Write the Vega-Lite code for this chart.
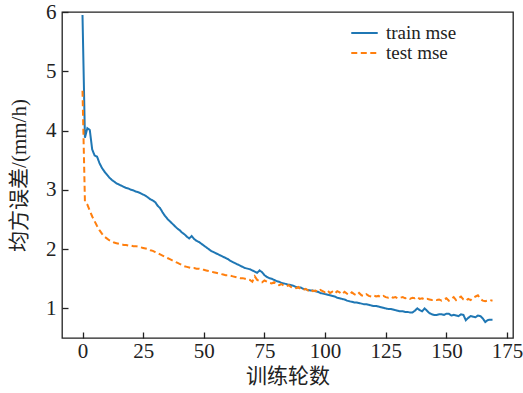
{
  "$schema": "https://vega.github.io/schema/vega-lite/v6.json",
  "width": 451,
  "height": 326,
  "autosize": {"type": "none"},
  "padding": {"left": 62, "top": 12, "right": 10, "bottom": 55},
  "background": "white",
  "config": {
    "view": {"stroke": "#222", "strokeWidth": 1.3},
    "font": "Liberation Serif, Times New Roman, serif",
    "axis": {
      "domain": false,
      "grid": false,
      "tickColor": "#222",
      "tickWidth": 1.3,
      "tickSize": -6,
      "labelColor": "#222",
      "titleColor": "#222",
      "labelFont": "Liberation Serif",
      "labelFontSize": 21,
      "titleFont": "Liberation Serif, Noto Sans CJK SC, serif",
      "titleFontSize": 21,
      "titleFontWeight": "normal"
    },
    "legend": {
      "labelFont": "Liberation Serif, Times New Roman, serif",
      "labelFontSize": 19,
      "labelColor": "#222"
    }
  },
  "datasets": {
    "mse": [
      {"e":0,"train mse":5.95,"test mse":4.67},{"e":1,"train mse":3.88,"test mse":2.80},{"e":2,"train mse":4.04,"test mse":2.75},{"e":3,"train mse":4.01,"test mse":2.65},{"e":4,"train mse":3.68,"test mse":2.55},
      {"e":5,"train mse":3.58,"test mse":2.47},{"e":6,"train mse":3.56,"test mse":2.39},{"e":7,"train mse":3.45,"test mse":2.32},{"e":8,"train mse":3.37,"test mse":2.26},{"e":9,"train mse":3.31,"test mse":2.21},
      {"e":10,"train mse":3.26,"test mse":2.18},{"e":11,"train mse":3.21,"test mse":2.15},{"e":12,"train mse":3.17,"test mse":2.13},{"e":13,"train mse":3.14,"test mse":2.11},{"e":14,"train mse":3.11,"test mse":2.10},
      {"e":15,"train mse":3.09,"test mse":2.09},{"e":16,"train mse":3.07,"test mse":2.08},{"e":17,"train mse":3.05,"test mse":2.07},{"e":18,"train mse":3.03,"test mse":2.07},{"e":19,"train mse":3.02,"test mse":2.06},
      {"e":20,"train mse":3.00,"test mse":2.06},{"e":21,"train mse":2.99,"test mse":2.05},{"e":22,"train mse":2.97,"test mse":2.05},{"e":23,"train mse":2.96,"test mse":2.04},{"e":24,"train mse":2.94,"test mse":2.03},
      {"e":25,"train mse":2.92,"test mse":2.02},{"e":26,"train mse":2.90,"test mse":2.01},{"e":27,"train mse":2.87,"test mse":2.00},{"e":28,"train mse":2.84,"test mse":1.98},{"e":29,"train mse":2.82,"test mse":1.97},
      {"e":30,"train mse":2.79,"test mse":1.95},{"e":31,"train mse":2.73,"test mse":1.93},{"e":32,"train mse":2.69,"test mse":1.91},{"e":33,"train mse":2.62,"test mse":1.89},{"e":34,"train mse":2.56,"test mse":1.87},
      {"e":35,"train mse":2.51,"test mse":1.85},{"e":36,"train mse":2.47,"test mse":1.83},{"e":37,"train mse":2.43,"test mse":1.81},{"e":38,"train mse":2.39,"test mse":1.79},{"e":39,"train mse":2.35,"test mse":1.77},
      {"e":40,"train mse":2.32,"test mse":1.75},{"e":41,"train mse":2.28,"test mse":1.73},{"e":42,"train mse":2.25,"test mse":1.71},{"e":43,"train mse":2.21,"test mse":1.70},{"e":44,"train mse":2.18,"test mse":1.69},
      {"e":45,"train mse":2.22,"test mse":1.68},{"e":46,"train mse":2.17,"test mse":1.68},{"e":47,"train mse":2.14,"test mse":1.67},{"e":48,"train mse":2.12,"test mse":1.67},{"e":49,"train mse":2.09,"test mse":1.66},
      {"e":50,"train mse":2.06,"test mse":1.65},{"e":51,"train mse":2.03,"test mse":1.64},{"e":52,"train mse":2.00,"test mse":1.63},{"e":53,"train mse":1.97,"test mse":1.62},{"e":54,"train mse":1.95,"test mse":1.61},
      {"e":55,"train mse":1.93,"test mse":1.60},{"e":56,"train mse":1.91,"test mse":1.59},{"e":57,"train mse":1.89,"test mse":1.58},{"e":58,"train mse":1.87,"test mse":1.57},{"e":59,"train mse":1.85,"test mse":1.56},
      {"e":60,"train mse":1.83,"test mse":1.56},{"e":61,"train mse":1.80,"test mse":1.55},{"e":62,"train mse":1.78,"test mse":1.54},{"e":63,"train mse":1.76,"test mse":1.53},{"e":64,"train mse":1.74,"test mse":1.52},
      {"e":65,"train mse":1.72,"test mse":1.51},{"e":66,"train mse":1.70,"test mse":1.51},{"e":67,"train mse":1.68,"test mse":1.50},{"e":68,"train mse":1.67,"test mse":1.49},{"e":69,"train mse":1.66,"test mse":1.48},
      {"e":70,"train mse":1.64,"test mse":1.45},{"e":71,"train mse":1.62,"test mse":1.54},{"e":72,"train mse":1.60,"test mse":1.48},{"e":73,"train mse":1.64,"test mse":1.46},{"e":74,"train mse":1.61,"test mse":1.44},
      {"e":75,"train mse":1.56,"test mse":1.47},{"e":76,"train mse":1.53,"test mse":1.45},{"e":77,"train mse":1.51,"test mse":1.43},{"e":78,"train mse":1.50,"test mse":1.42},{"e":79,"train mse":1.48,"test mse":1.44},
      {"e":80,"train mse":1.46,"test mse":1.40},{"e":81,"train mse":1.45,"test mse":1.39},{"e":82,"train mse":1.43,"test mse":1.41},{"e":83,"train mse":1.42,"test mse":1.38},{"e":84,"train mse":1.41,"test mse":1.37},
      {"e":85,"train mse":1.40,"test mse":1.39},{"e":86,"train mse":1.39,"test mse":1.36},{"e":87,"train mse":1.38,"test mse":1.35},{"e":88,"train mse":1.36,"test mse":1.34},{"e":89,"train mse":1.35,"test mse":1.36},
      {"e":90,"train mse":1.35,"test mse":1.32},{"e":91,"train mse":1.33,"test mse":1.31},{"e":92,"train mse":1.32,"test mse":1.33},{"e":93,"train mse":1.31,"test mse":1.30},{"e":94,"train mse":1.30,"test mse":1.32},
      {"e":95,"train mse":1.30,"test mse":1.29},{"e":96,"train mse":1.29,"test mse":1.30},{"e":97,"train mse":1.28,"test mse":1.28},{"e":98,"train mse":1.26,"test mse":1.31},{"e":99,"train mse":1.25,"test mse":1.29},
      {"e":100,"train mse":1.24,"test mse":1.27},{"e":101,"train mse":1.23,"test mse":1.30},{"e":102,"train mse":1.22,"test mse":1.26},{"e":103,"train mse":1.21,"test mse":1.28},{"e":104,"train mse":1.20,"test mse":1.25},
      {"e":105,"train mse":1.18,"test mse":1.29},{"e":106,"train mse":1.17,"test mse":1.27},{"e":107,"train mse":1.16,"test mse":1.24},{"e":108,"train mse":1.15,"test mse":1.28},{"e":109,"train mse":1.13,"test mse":1.25},
      {"e":110,"train mse":1.12,"test mse":1.23},{"e":111,"train mse":1.11,"test mse":1.27},{"e":112,"train mse":1.10,"test mse":1.24},{"e":113,"train mse":1.10,"test mse":1.22},{"e":114,"train mse":1.09,"test mse":1.26},
      {"e":115,"train mse":1.08,"test mse":1.22},{"e":116,"train mse":1.07,"test mse":1.21},{"e":117,"train mse":1.07,"test mse":1.24},{"e":118,"train mse":1.06,"test mse":1.21},{"e":119,"train mse":1.05,"test mse":1.20},
      {"e":120,"train mse":1.04,"test mse":1.22},{"e":121,"train mse":1.04,"test mse":1.20},{"e":122,"train mse":1.03,"test mse":1.21},{"e":123,"train mse":1.02,"test mse":1.19},{"e":124,"train mse":1.01,"test mse":1.21},
      {"e":125,"train mse":1.00,"test mse":1.19},{"e":126,"train mse":0.99,"test mse":1.18},{"e":127,"train mse":0.99,"test mse":1.20},{"e":128,"train mse":0.98,"test mse":1.18},{"e":129,"train mse":0.97,"test mse":1.19},
      {"e":130,"train mse":0.96,"test mse":1.17},{"e":131,"train mse":0.95,"test mse":1.18},{"e":132,"train mse":0.95,"test mse":1.19},{"e":133,"train mse":0.94,"test mse":1.17},{"e":134,"train mse":0.94,"test mse":1.18},
      {"e":135,"train mse":0.93,"test mse":1.16},{"e":136,"train mse":0.93,"test mse":1.18},{"e":137,"train mse":0.96,"test mse":1.17},{"e":138,"train mse":1.00,"test mse":1.19},{"e":139,"train mse":0.97,"test mse":1.16},
      {"e":140,"train mse":0.95,"test mse":1.17},{"e":141,"train mse":1.00,"test mse":1.15},{"e":142,"train mse":0.96,"test mse":1.16},{"e":143,"train mse":0.92,"test mse":1.15},{"e":144,"train mse":0.90,"test mse":1.14},
      {"e":145,"train mse":0.89,"test mse":1.15},{"e":146,"train mse":0.89,"test mse":1.14},{"e":147,"train mse":0.90,"test mse":1.15},{"e":148,"train mse":0.90,"test mse":1.13},{"e":149,"train mse":0.89,"test mse":1.15},
      {"e":150,"train mse":0.91,"test mse":1.17},{"e":151,"train mse":0.91,"test mse":1.13},{"e":152,"train mse":0.88,"test mse":1.16},{"e":153,"train mse":0.89,"test mse":1.19},{"e":154,"train mse":0.88,"test mse":1.14},
      {"e":155,"train mse":0.87,"test mse":1.17},{"e":156,"train mse":0.90,"test mse":1.20},{"e":157,"train mse":0.89,"test mse":1.15},{"e":158,"train mse":0.80,"test mse":1.13},{"e":159,"train mse":0.84,"test mse":1.16},
      {"e":160,"train mse":0.87,"test mse":1.14},{"e":161,"train mse":0.86,"test mse":1.18},{"e":162,"train mse":0.85,"test mse":1.20},{"e":163,"train mse":0.88,"test mse":1.22},{"e":164,"train mse":0.87,"test mse":1.16},
      {"e":165,"train mse":0.83,"test mse":1.13},{"e":166,"train mse":0.77,"test mse":1.12},{"e":167,"train mse":0.80,"test mse":1.13},{"e":168,"train mse":0.81,"test mse":1.14},{"e":169,"train mse":0.81,"test mse":1.13}
    ]
  },
  "data": {"name": "mse"},
  "transform": [{"fold": ["train mse", "test mse"], "as": ["series", "mse"]}],
  "mark": {"type": "line", "strokeWidth": 2, "clip": true},
  "encoding": {
    "x": {
      "field": "e",
      "type": "quantitative",
      "title": "训练轮数",
      "scale": {"domain": [-8.45, 177.45], "nice": false, "zero": false},
      "axis": {"values": [0, 25, 50, 75, 100, 125, 150, 175], "labelPadding": 8, "titlePadding": 4, "labelFlush": false}
    },
    "y": {
      "field": "mse",
      "type": "quantitative",
      "title": "均方误差/(mm/h)",
      "scale": {"domain": [0.5, 6], "nice": false, "zero": false},
      "axis": {"values": [1, 2, 3, 4, 5, 6], "labelPadding": 12, "titlePadding": 16, "labelFlush": false}
    },
    "color": {
      "field": "series",
      "type": "nominal",
      "scale": {"domain": ["train mse", "test mse"], "range": ["#1f77b4", "#ff7f0e"]},
      "legend": {
        "title": null,
        "orient": "none",
        "legendX": 288,
        "legendY": 11,
        "symbolType": "stroke",
        "symbolStrokeWidth": 2,
        "symbolSize": 700,
        "clipHeight": 20,
        "rowPadding": 0,
        "labelOffset": 7
      }
    },
    "strokeDash": {
      "field": "series",
      "type": "nominal",
      "scale": {"domain": ["train mse", "test mse"], "range": [[1, 0], [6, 3.5]]},
      "legend": null
    }
  }
}
